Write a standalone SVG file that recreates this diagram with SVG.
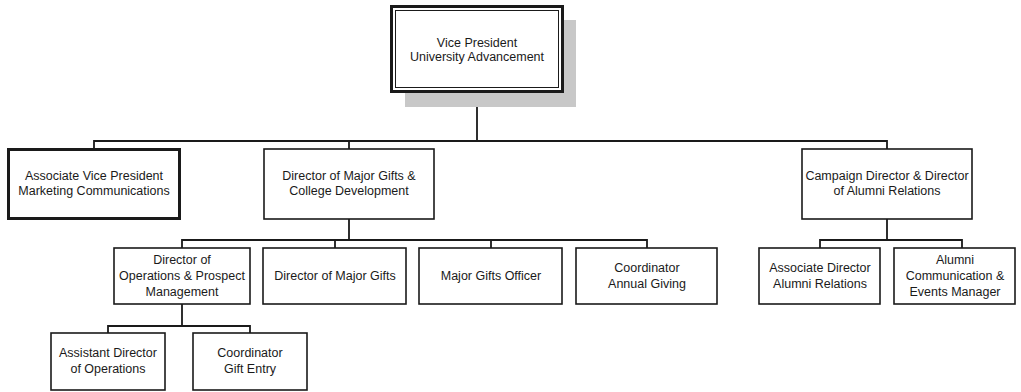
<svg xmlns="http://www.w3.org/2000/svg" width="1021" height="392" viewBox="0 0 1021 392">
<style>
.box{fill:#fff;stroke:#1a1a1a;stroke-width:1.6}
.thick{fill:#fff;stroke:#1a1a1a;stroke-width:3}
.thin{fill:none;stroke:#1a1a1a;stroke-width:1}
.shadow{fill:#c8c8c8}
.lines path{fill:none;stroke:#1a1a1a;stroke-width:1.8}
text{font-family:"Liberation Sans",Arial,sans-serif;font-size:12.5px;fill:#1a1a1a;text-anchor:middle}
</style>
<rect width="1021" height="392" fill="#fff"/>
<g id="connectors" class="lines">
<path d="M477 92V141M94 149V141H887V149M349 141V149"/>
<path d="M349 219V240M182 248V240H647V248M335 240V248M491 240V248"/>
<path d="M887 219V240M820 248V240H962V248"/>
<path d="M182 304V326M108 333V326H250V333"/>
</g>
<g id="vp">
<rect class="shadow" x="405" y="20" width="171" height="87"/>
<rect class="thick" x="391.5" y="6.5" width="171" height="85"/>
<rect class="thin" x="395.5" y="10.5" width="163" height="77"/>
<text x="477" y="47">Vice President</text>
<text x="477" y="61">University Advancement</text>
</g>
<g id="avp">
<rect class="thick" x="8.5" y="149.5" width="171" height="69"/>
<text x="94" y="180">Associate Vice President</text>
<text x="94" y="195">Marketing Communications</text>
</g>
<g id="dmgcd">
<rect class="box" x="264" y="149" width="170" height="70"/>
<text x="349" y="180">Director of Major Gifts &amp;</text>
<text x="349" y="195">College Development</text>
</g>
<g id="campaign">
<rect class="box" x="802" y="149" width="170" height="70"/>
<text x="887" y="180">Campaign Director &amp; Director</text>
<text x="887" y="195">of Alumni Relations</text>
</g>
<g id="dops">
<rect class="box" x="114" y="248" width="136" height="56"/>
<text x="182" y="264">Director of</text>
<text x="182" y="280">Operations &amp; Prospect</text>
<text x="182" y="296">Management</text>
</g>
<g id="dmg">
<rect class="box" x="263" y="248" width="143" height="56"/>
<text x="335" y="280">Director of Major Gifts</text>
</g>
<g id="mgo">
<rect class="box" x="419" y="248" width="143" height="56"/>
<text x="491" y="280">Major Gifts Officer</text>
</g>
<g id="cag">
<rect class="box" x="576" y="248" width="141" height="56"/>
<text x="647" y="272">Coordinator</text>
<text x="647" y="288">Annual Giving</text>
</g>
<g id="adar">
<rect class="box" x="759" y="248" width="121" height="56"/>
<text x="820" y="272">Associate Director</text>
<text x="820" y="288">Alumni Relations</text>
</g>
<g id="acem">
<rect class="box" x="894" y="248" width="121" height="56"/>
<text x="955" y="264">Alumni</text>
<text x="955" y="280">Communication &amp;</text>
<text x="955" y="296">Events Manager</text>
</g>
<g id="ado">
<rect class="box" x="51" y="333" width="114" height="57"/>
<text x="108" y="357">Assistant Director</text>
<text x="108" y="373">of Operations</text>
</g>
<g id="cge">
<rect class="box" x="193" y="333" width="114" height="57"/>
<text x="250" y="357">Coordinator</text>
<text x="250" y="373">Gift Entry</text>
</g>
</svg>
